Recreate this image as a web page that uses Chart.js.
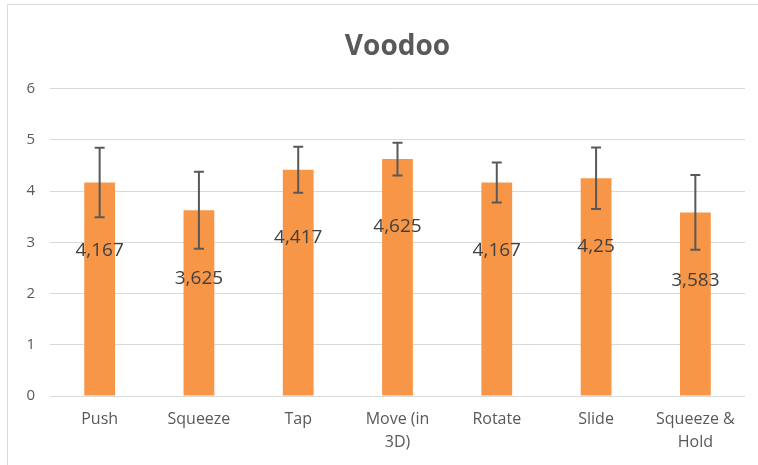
<!DOCTYPE html>
<html>
<head>
<meta charset="utf-8">
<script src="https://cdn.jsdelivr.net/npm/chart.js@4.4.1/dist/chart.umd.min.js"></script>
<style>
  html, body { margin: 0; padding: 0; background: #fff; overflow: hidden; }
  #frame { position: absolute; left: 7px; top: 4px; width: 800px; height: 500px; border: 1px solid #d9d9d9; }
  #wrap { position: absolute; left: 0; top: 0; width: 758px; height: 465px; }
</style>
</head>
<body>
<div id="frame"></div>
<div id="wrap"><canvas id="myChart" width="758" height="465"></canvas></div>
<script>
const categories = ['Push', 'Squeeze', 'Tap', ['Move (in', '3D)'], 'Rotate', 'Slide', ['Squeeze &', 'Hold']];
const means = [4.167, 3.625, 4.417, 4.625, 4.167, 4.25, 3.583];
const errors = [0.68, 0.75, 0.45, 0.32, 0.39, 0.60, 0.73];
const yTicks = [0, 1, 2, 3, 4, 5, 6];

const textFont = '"Open Sans", "Liberation Sans", sans-serif';

// whiskers + value labels drawn on top of the bars
const errorBars = {
  id: 'errorBars',
  afterDatasetsDraw(chart) {
    const { ctx, scales: { y } } = chart;
    const bars = chart.getDatasetMeta(0).data;
    ctx.save();
    ctx.strokeStyle = '#595959';
    ctx.lineWidth = 2;
    bars.forEach((bar, i) => {
      const top = y.getPixelForValue(means[i] + errors[i]);
      const bot = y.getPixelForValue(means[i] - errors[i]);
      ctx.beginPath();
      ctx.moveTo(bar.x, top); ctx.lineTo(bar.x, bot);
      ctx.moveTo(bar.x - 5, top); ctx.lineTo(bar.x + 5, top);
      ctx.moveTo(bar.x - 5, bot); ctx.lineTo(bar.x + 5, bot);
      ctx.stroke();
    });
    ctx.fillStyle = '#404040';
    ctx.font = '19px ' + textFont;
    ctx.textAlign = 'center';
    ctx.textBaseline = 'middle';
    bars.forEach((bar, i) => {
      const label = String(means[i]).replace('.', ',');
      ctx.fillText(label, bar.x, y.getPixelForValue(means[i]) + 68);
    });
    ctx.restore();
  }
};

const ctx = document.getElementById('myChart');
new Chart(ctx, {
  type: 'bar',
  data: {
    labels: categories,
    datasets: [{
      data: means,
      backgroundColor: '#f79646',
      borderWidth: 0,
      categoryPercentage: 1,
      barPercentage: 0.31
    }]
  },
  options: {
    responsive: false,
    animation: false,
    layout: { padding: { right: 13, top: 0, bottom: 0, left: 0 } },
    plugins: {
      legend: { display: false },
      tooltip: { enabled: false },
      title: {
        display: true,
        fullSize: false,
        text: 'Voodoo',
        color: '#595959',
        font: { family: textFont, size: 28, weight: 'bold' },
        padding: { top: 30, bottom: 25 }
      }
    },
    scales: {
      x: {
        grid: { display: false, drawTicks: false, tickLength: 0 },
        border: { display: false },
        ticks: {
          color: '#595959',
          font: { family: textFont, size: 16, lineHeight: 1.45 },
          padding: 12,
          maxRotation: 0,
          autoSkip: false
        },
        afterFit: (scale) => { scale.height = 69; }
      },
      y: {
        min: 0,
        max: 6,
        afterBuildTicks: (scale) => { scale.ticks = yTicks.map(v => ({ value: v })); },
        grid: { color: '#d9d9d9', lineWidth: 1, drawTicks: false, tickLength: 0 },
        border: { display: false },
        ticks: {
          color: '#595959',
          font: { family: textFont, size: 15 },
          padding: 15
        },
        afterFit: (scale) => { scale.width = 50; }
      }
    }
  },
  plugins: [errorBars]
});
</script>
</body>
</html>
